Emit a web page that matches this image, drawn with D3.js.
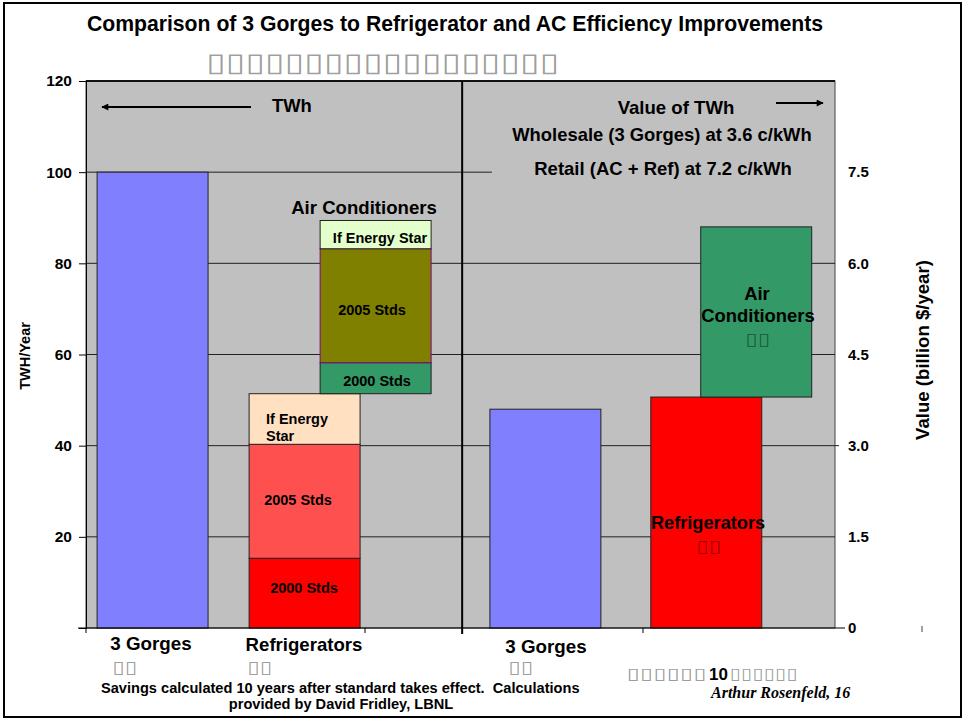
<!DOCTYPE html>
<html><head><meta charset="utf-8">
<script src="https://cdn.jsdelivr.net/npm/d3@7/dist/d3.min.js"></script>
<style>
body{margin:0;background:#fff}
svg{display:block}
text{font-family:"Liberation Sans",Arial,sans-serif;font-weight:bold;fill:#000}
.tofu{font-family:"DejaVu Sans",sans-serif;font-weight:normal;fill:#000;fill-opacity:0.4}
</style>
</head><body>
<svg id="c" width="964" height="721"></svg>
<script>
// ---- data ----
const barNames = ["3 Gorges", "Refrigerators", "Air Conditioners"];
const standardNames = ["2000 Stds", "2005 Stds", "If Energy Star"];
const gorgesTWh = [100];
const refrigeratorTWh = [15.3, 25.0, 11.1];
const airConditionerTWh = [6.8, 25.0, 6.2];
const valueBillion = [3.6, 3.8, 2.8];       // 3 Gorges, Refrigerators, Air Conditioners
const leftTicks = [0, 20, 40, 60, 80, 100, 120];
const rightTicks = [0, 1.5, 3.0, 4.5, 6.0, 7.5];
const rightTickLabels = ["0", "1.5", "3.0", "4.5", "6.0", "7.5"];
const gridTWh = [20, 40, 60, 80, 100];
const titleText = "Comparison of 3 Gorges to Refrigerator and AC Efficiency Improvements";
const tofu = "\u25AF";

// ---- layout ----
const svg = d3.select("#c");
const P = {l: 86, r: 835, t: 81, b: 628};
const yL = d3.scaleLinear().domain([0, 120]).range([P.b, P.t]);
const yR = d3.scaleLinear().domain([0, 9]).range([P.b, P.t]);
const x = d3.scaleLinear().domain([0, 6.75]).range([P.l, P.r]);
const bw = x(1) - x(0);
const slot = {g1: 0.1, r1: 1.47, a1: 2.11, div: 3.39, g2: 3.64, r2: 5.09, a2: 5.54};

// page border
svg.append("rect").attr("x", 4).attr("y", 3).attr("width", 957).attr("height", 714)
  .attr("fill", "none").attr("stroke", "#000").attr("stroke-width", 2);

// plot background
svg.append("rect").attr("x", P.l).attr("y", P.t).attr("width", P.r - P.l).attr("height", P.b - P.t)
  .attr("fill", "#C0C0C0").attr("stroke", "#444").attr("stroke-width", 1);
svg.append("line").attr("x1", P.l).attr("x2", P.r).attr("y1", P.t).attr("y2", P.t)
  .attr("stroke", "#111").attr("stroke-width", 2);

// gridlines
svg.append("g").selectAll("line").data(gridTWh).join("line")
  .attr("x1", P.l).attr("x2", d => d === 100 ? x(slot.g2) + 2 : P.r)
  .attr("y1", d => yL(d)).attr("y2", d => yL(d))
  .attr("stroke", "#222").attr("stroke-width", 1);

// divider
svg.append("line").attr("x1", x(slot.div)).attr("x2", x(slot.div)).attr("y1", P.t).attr("y2", P.b + 6)
  .attr("stroke", "#000").attr("stroke-width", 2);

// helper for stacked segments
function stackSegs(vals, base) {
  const c = d3.cumsum(vals);
  return vals.map((v, i) => ({name: standardNames[i], y0: base + (c[i] - v), y1: base + c[i], i}));
}
const refSegs = stackSegs(refrigeratorTWh, 0);
const acSegs = stackSegs(airConditionerTWh, d3.sum(refrigeratorTWh));
const refColors = ["#FF0000", "#FF5050", "#FFE0C0"];
const acColors = ["#339966", "#808000", "#E2FFCC"];

// left bars
svg.append("rect").attr("x", x(slot.g1)).attr("width", bw)
  .attr("y", yL(gorgesTWh[0])).attr("height", yL(0) - yL(gorgesTWh[0]))
  .attr("fill", "#8080FF").attr("stroke", "#222");
svg.append("g").selectAll("rect").data(refSegs).join("rect")
  .attr("x", x(slot.r1)).attr("width", bw)
  .attr("y", d => yL(d.y1)).attr("height", d => yL(d.y0) - yL(d.y1))
  .attr("fill", d => refColors[d.i]).attr("stroke", "#222");
svg.append("g").selectAll("rect").data(acSegs).join("rect")
  .attr("x", x(slot.a1)).attr("width", bw)
  .attr("y", d => yL(d.y1)).attr("height", d => yL(d.y0) - yL(d.y1))
  .attr("fill", d => acColors[d.i]).attr("stroke", d => d.i === 1 ? "#800080" : "#222");

// right bars (value)
const rightBars = [
  {name: barNames[0], y0: 0, y1: valueBillion[0], s: slot.g2, c: "#8080FF"},
  {name: barNames[1], y0: 0, y1: valueBillion[1], s: slot.r2, c: "#FF0000"},
  {name: barNames[2], y0: valueBillion[1], y1: valueBillion[1] + valueBillion[2], s: slot.a2, c: "#339966"}
];
svg.append("g").selectAll("rect").data(rightBars).join("rect")
  .attr("x", d => x(d.s)).attr("width", bw)
  .attr("y", d => yR(d.y1)).attr("height", d => yR(d.y0) - yR(d.y1))
  .attr("fill", d => d.c).attr("stroke", "#222");

// left axis
const ax = svg.append("g").attr("transform", `translate(${P.l},0)`)
  .call(d3.axisLeft(yL).tickValues(leftTicks).tickSize(7).tickPadding(7).tickFormat(d => d === 0 ? "" : d));
ax.selectAll("text").style("font-size", "15.5px");
ax.select(".domain").attr("stroke", "#000");

// right axis labels
const ar = svg.append("g").attr("transform", `translate(${P.r},0)`)
  .call(d3.axisRight(yR).tickValues(rightTicks).tickSize(0).tickPadding(13)
    .tickFormat(d => rightTickLabels[rightTicks.indexOf(d)]));
ar.select(".domain").remove();
ar.selectAll("text").style("font-size", "15px");

// bottom axis line and ticks
svg.append("line").attr("x1", 78).attr("x2", 845).attr("y1", P.b).attr("y2", P.b).attr("stroke", "#000");
svg.append("g").selectAll("line").data([P.l, 365, 643]).join("line")
  .attr("x1", d => d).attr("x2", d => d).attr("y1", P.b).attr("y2", P.b + 5).attr("stroke", "#000");
svg.append("line").attr("x1", 922).attr("x2", 922).attr("y1", 626).attr("y2", 632).attr("stroke", "#444");
svg.append("line").attr("x1", P.r).attr("x2", 839).attr("y1", yL(40)).attr("y2", yL(40)).attr("stroke", "#222");

// arrows
svg.append("defs").append("marker").attr("id", "ah").attr("viewBox", "0 0 10 10")
  .attr("refX", 9).attr("refY", 5).attr("markerWidth", 9).attr("markerHeight", 7)
  .attr("markerUnits", "userSpaceOnUse").attr("orient", "auto")
  .append("path").attr("d", "M0,0 L10,5 L0,10 z").attr("fill", "#000");
svg.append("line").attr("x1", 251).attr("x2", 102).attr("y1", 107).attr("y2", 107)
  .attr("stroke", "#000").attr("stroke-width", 2).attr("marker-end", "url(#ah)");
svg.append("line").attr("x1", 776).attr("x2", 823).attr("y1", 103).attr("y2", 103)
  .attr("stroke", "#000").attr("stroke-width", 2).attr("marker-end", "url(#ah)");

// text helpers
function txt(s, xx, yy, size, anchor) {
  return svg.append("text").attr("x", xx).attr("y", yy).attr("text-anchor", anchor || "middle")
    .style("font-size", size + "px").text(s);
}
function tofuTxt(n, xx, yy, size, anchor, len) {
  const t = svg.append("text").attr("class", "tofu").attr("x", xx).attr("y", yy)
    .attr("text-anchor", anchor || "start").style("font-size", size + "px").text(tofu.repeat(n));
  if (len) t.attr("textLength", len).attr("lengthAdjust", "spacingAndGlyphs");
  return t;
}

// title
txt(titleText, 455, 31, 21.2);
tofuTxt(18, 206, 71, 26, "start", 353);

// top annotations
txt("TWh", 272, 112, 18.4, "start");
txt("Value of TWh", 676, 114, 18.6);
txt("Wholesale (3 Gorges) at 3.6 c/kWh", 662, 141, 18.4);
txt("Retail (AC + Ref) at 7.2 c/kWh", 663, 175, 18.5);
txt(barNames[2], 364, 214, 18.6);

// AC segment labels
txt(standardNames[2], 380, 243, 14.5);
txt(standardNames[1], 372, 315, 14.5);
txt(standardNames[0], 377, 386, 14.5);
// Refrigerator segment labels
txt("If Energy", 266, 424, 14.5, "start");
txt("Star", 266, 441, 14.5, "start");
txt(standardNames[1], 298, 505, 14.5);
txt(standardNames[0], 304, 593, 14.5);

// right bar labels
txt("Air", 757, 300, 18.4);
txt("Conditioners", 758, 322, 18.4);
tofuTxt(2, 745, 345, 17, "start", 25);
txt(barNames[1], 708, 529, 18.2);
tofuTxt(2, 696, 552, 17, "start", 25);

// axis titles
svg.append("text").attr("transform", "translate(30,356) rotate(-90)").attr("text-anchor", "middle")
  .style("font-size", "14.5px").text("TWH/Year");
svg.append("text").attr("transform", "translate(929,350) rotate(-90)").attr("text-anchor", "middle")
  .style("font-size", "18.6px").text("Value (billion $/year)");

// category labels
txt(barNames[0], 151, 650, 18.8);
tofuTxt(2, 112, 673, 17, "start", 25);
txt(barNames[1], 304, 651, 18.6);
tofuTxt(2, 247, 673, 17, "start", 25);
txt(barNames[0], 546, 653, 18.8);
tofuTxt(2, 508, 673, 17, "start", 25);

// footer
txt("Savings calculated 10 years after standard takes effect.  Calculations", 101, 693, 14.6, "start")
  .style("white-space", "pre");
txt("provided by David Fridley, LBNL", 341, 709, 14.6);
tofuTxt(6, 627, 679, 16, "start", 80);
txt("10", 709, 680, 17, "start");
tofuTxt(6, 730, 679, 16, "start", 68);
svg.append("text").attr("x", 711).attr("y", 698)
  .style("font-family", "'Liberation Serif','Times New Roman',serif").style("font-style", "italic")
  .style("font-size", "16px").text("Arthur Rosenfeld, 16");
</script>
</body></html>
